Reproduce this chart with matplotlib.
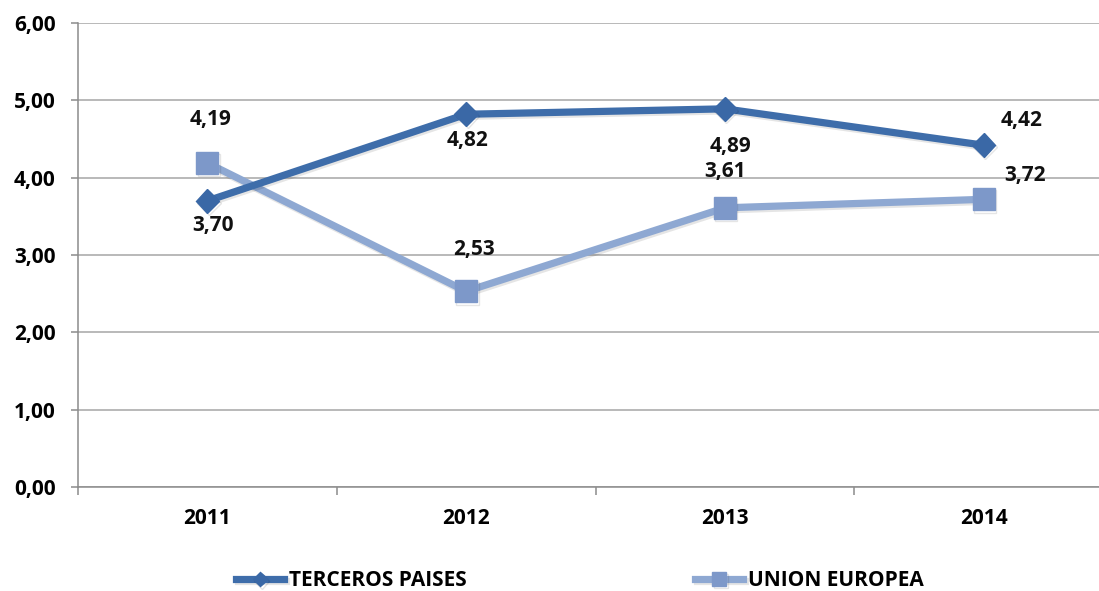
import matplotlib
matplotlib.use("Agg")
import matplotlib.pyplot as plt
import matplotlib.patheffects as pe
from matplotlib.ticker import FixedLocator, FuncFormatter

years = ["2011", "2012", "2013", "2014"]
terceros = [3.70, 4.82, 4.89, 4.42]
union = [4.19, 2.53, 3.61, 3.72]
series_names = ["TERCEROS PAISES", "UNION EUROPEA"]
yticks = [0, 1, 2, 3, 4, 5, 6]

# label offsets in points (dx, dy)
off_terceros = [(4, -18), (1, -19), (4, -27), (27, 18)]
off_union = [(2, 31), (6, 30), (0, 26), (30, 17)]

plt.rcParams['font.family'] = ['Open Sans', 'DejaVu Sans']
FS = 15

fig = plt.figure(figsize=(10.99, 5.91), dpi=100)
ax = fig.add_axes([78/1099, 104/591, 1035/1099, 464/591])

x = list(range(len(years)))
dark = "#3E6DAA"
light = "#8EA8D2"
shadow = [pe.SimpleLineShadow(offset=(1, -1.5), shadow_color="#000000", alpha=0.10), pe.Normal()]

l1, = ax.plot(x, terceros, color=dark, lw=5.2, marker='D', markersize=12,
              markerfacecolor="#3A68A6", markeredgecolor="#3A68A6", zorder=4,
              path_effects=shadow, solid_joinstyle='round')
l2, = ax.plot(x, union, color=light, lw=5.2, marker='s', markersize=16,
              markerfacecolor="#7D98C9", markeredgecolor="#7D98C9", zorder=3,
              path_effects=shadow, solid_joinstyle='round')

for xi, v, o in zip(x, terceros, off_terceros):
    ax.annotate(f"{v:.2f}".replace('.', ','), (xi, v), xytext=o, textcoords='offset points',
                ha='center', va='center', fontsize=FS, fontweight='bold', color='#111111', zorder=6)
for xi, v, o in zip(x, union, off_union):
    ax.annotate(f"{v:.2f}".replace('.', ','), (xi, v), xytext=o, textcoords='offset points',
                ha='center', va='center', fontsize=FS, fontweight='bold', color='#111111', zorder=6)

ax.set_xlim(-0.5, 3.5)
ax.set_ylim(0, 6)
ax.yaxis.set_major_locator(FixedLocator(yticks))
ax.yaxis.set_major_formatter(FuncFormatter(lambda v, p: f"{v:.2f}".replace('.', ',')))
ax.grid(axis='y', color='#A6A6A6', lw=1.1)
ax.set_axisbelow(True)

ax.xaxis.set_major_locator(FixedLocator([-0.5, 0.5, 1.5, 2.5, 3.5]))
ax.xaxis.set_major_formatter(FuncFormatter(lambda v, p: ""))
ax.xaxis.set_minor_locator(FixedLocator(x))
ax.set_xticklabels(years, minor=True)
ax.tick_params(axis='x', which='minor', length=0, pad=15, labelsize=FS)
ax.tick_params(axis='x', which='major', length=6, color='#8C8C8C', width=1.1)
ax.tick_params(axis='y', length=5, color='#8C8C8C', width=1.1, pad=11, labelsize=FS)
for lab in ax.get_xticklabels(minor=True) + ax.get_yticklabels():
    lab.set_fontweight('bold')

for s in ['top', 'right']:
    ax.spines[s].set_visible(False)
ax.spines['left'].set_color('#8C8C8C')
ax.spines['bottom'].set_color('#8C8C8C')
ax.spines['left'].set_linewidth(1.1)
ax.spines['bottom'].set_linewidth(1.1)

fig.legend([l1, l2], series_names, loc='center', bbox_to_anchor=(0.528, 0.017),
           ncol=2, frameon=False, handlelength=2.3, handletextpad=0.25,
           columnspacing=10.95, prop={'size': FS, 'weight': 'bold'}, markerscale=0.62)

fig.savefig("out.png", dpi=100)
